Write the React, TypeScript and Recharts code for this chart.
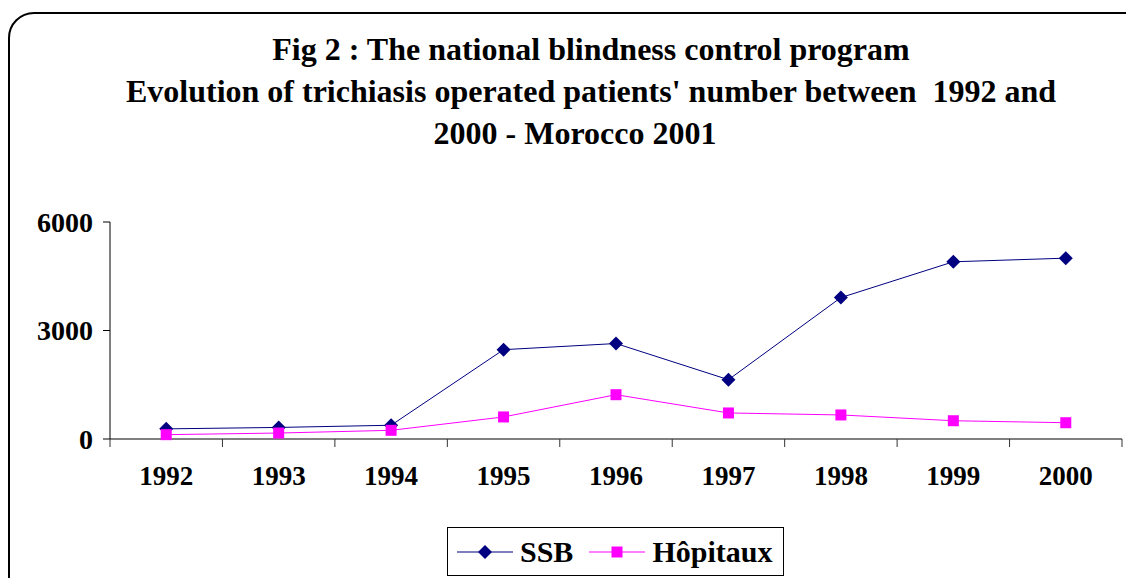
import { LineChart, Line, XAxis, YAxis } from "recharts";

const years = ["1992", "1993", "1994", "1995", "1996", "1997", "1998", "1999", "2000"];
const ssb = [280, 320, 380, 2470, 2640, 1640, 3910, 4900, 5000];
const hopitaux = [120, 165, 240, 610, 1225, 720, 665, 505, 450];
const yTicks = [0, 3000, 6000];

const titleLines = [
  "Fig 2 : The national blindness control program",
  "Evolution of trichiasis operated patients' number between  1992 and",
  "2000 - Morocco 2001",
];

const SSB_COLOR = "#000080";
const HOP_COLOR = "#ff00ff";
const FONT = "'Liberation Serif', 'Times New Roman', serif";

const data = years.map((year, i) => ({ year, ssb: ssb[i], hopitaux: hopitaux[i] }));

function Diamond({ cx, cy }: any) {
  if (cx == null || cy == null) return null;
  const r = 7;
  return (
    <path
      d={`M${cx},${cy - r}L${cx + r},${cy}L${cx},${cy + r}L${cx - r},${cy}Z`}
      fill={SSB_COLOR}
    />
  );
}

function Square({ cx, cy }: any) {
  if (cx == null || cy == null) return null;
  const r = 5.5;
  return <rect x={cx - r} y={cy - r} width={r * 2} height={r * 2} fill={HOP_COLOR} />;
}

function YearTick({ x, y, payload, index }: any) {
  const half = payload.offset || 0;
  const last = index === years.length - 1;
  return (
    <g>
      <line x1={x - half} y1={y} x2={x - half} y2={y + 8} stroke="#333" strokeWidth={1} />
      {last && <line x1={x + half} y1={y} x2={x + half} y2={y + 8} stroke="#333" strokeWidth={1} />}
      <text
        x={x}
        y={y + 46}
        textAnchor="middle"
        fontFamily={FONT}
        fontWeight="bold"
        fontSize={27}
        fill="#000"
      >
        {payload.value}
      </text>
    </g>
  );
}

function LegendBox() {
  const item = (name: string, color: string, marker: "diamond" | "square") => (
    <div style={{ display: "flex", alignItems: "center", marginRight: 16 }}>
      <svg width={58} height={20}>
        <line x1={0} y1={10} x2={56} y2={10} stroke={color} strokeWidth={1.2} />
        {marker === "diamond" ? (
          <path d="M28,3L35,10L28,17L21,10Z" fill={color} />
        ) : (
          <rect x={22.5} y={4.5} width={11} height={11} fill={color} />
        )}
      </svg>
      <span style={{ marginLeft: 5 }}>{name}</span>
    </div>
  );
  return (
    <div
      style={{
        position: "absolute",
        left: 447,
        top: 527,
        width: 337,
        height: 49,
        boxSizing: "border-box",
        border: "1px solid #000",
        background: "#fff",
        display: "flex",
        alignItems: "center",
        paddingLeft: 9,
        fontFamily: FONT,
        fontWeight: "bold",
        fontSize: 30,
        color: "#000",
      }}
    >
      {item("SSB", SSB_COLOR, "diamond")}
      {item("Hôpitaux", HOP_COLOR, "square")}
    </div>
  );
}

export default function App() {
  return (
    <div
      style={{
        position: "fixed",
        left: 0,
        top: 0,
        width: 1126,
        height: 578,
        overflow: "hidden",
        background: "#fff",
      }}
    >
      <div
        style={{
          position: "absolute",
          left: 8,
          top: 12,
          width: 1150,
          height: 600,
          border: "2px solid #000",
          borderRadius: 26,
          boxSizing: "border-box",
        }}
      />
      <div
        style={{
          position: "absolute",
          left: 0,
          top: 28,
          width: 1182,
          textAlign: "center",
          fontFamily: FONT,
          fontWeight: "bold",
          fontSize: 32,
          lineHeight: "42px",
          color: "#000",
        }}
      >
        {titleLines.map((t, i) => (
          <div key={i} style={{ whiteSpace: "pre", paddingRight: i === 2 ? 32 : 0 }}>
            {t}
          </div>
        ))}
      </div>
      <div style={{ position: "absolute", left: 0, top: 0 }}>
        <LineChart
          width={1126}
          height={578}
          data={data}
          margin={{ top: 222, right: 4, bottom: 99, left: 0 }}
        >
          <XAxis
            dataKey="year"
            scale="band"
            height={40}
            axisLine={{ stroke: "#808080", strokeWidth: 2 }}
            tickLine={false}
            tickSize={0}
            tickMargin={0}
            interval={0}
            tick={<YearTick />}
          />
          <YAxis
            domain={[0, 6000]}
            ticks={yTicks}
            width={110}
            axisLine={{ stroke: "#000" }}
            tickLine={{ stroke: "#000" }}
            tickSize={7}
            tickMargin={10}
            tick={{ fontFamily: FONT, fontWeight: "bold", fontSize: 28, fill: "#000" }}
          />
          <Line
            dataKey="ssb"
            stroke={SSB_COLOR}
            strokeWidth={1}
            dot={<Diamond />}
            isAnimationActive={false}
          />
          <Line
            dataKey="hopitaux"
            stroke={HOP_COLOR}
            strokeWidth={1}
            dot={<Square />}
            isAnimationActive={false}
          />
        </LineChart>
      </div>
      <LegendBox />
    </div>
  );
}
